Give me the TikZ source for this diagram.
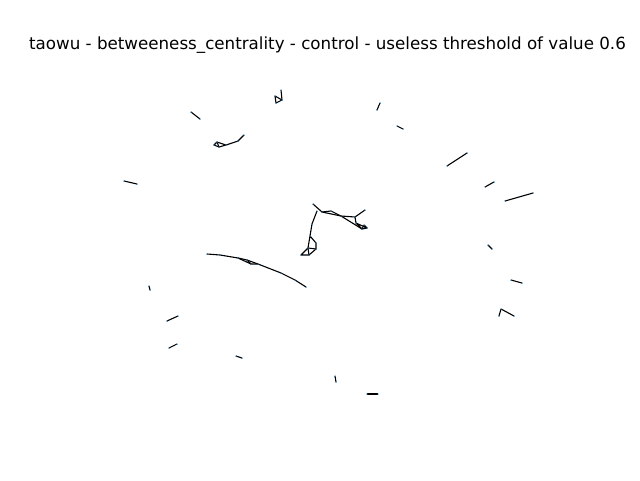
\documentclass[tikz,border=0pt]{standalone}
\usepackage{fontspec}
\setmainfont{DejaVu Sans}
\usepackage{tikz}
\usetikzlibrary{backgrounds}

\definecolor{dotblue}{RGB}{31,119,180}

\begin{document}
\begin{tikzpicture}[x=1pt, y=-1pt,
  dot/.style={coordinate, label={[circle, fill=dotblue, inner sep=0pt, minimum size=1.5pt]center:{}}},
  edge/.style={line width=1.1pt, black, line join=round}]
  \useasboundingbox (0,0) rectangle (640,480);

  % Title
  \node [anchor=base, font=\fontsize{16.7}{20}\selectfont] (title) at (327.5,49) {taowu - betweeness\_centrality - control - useless threshold of value 0.6};

  % Nodes: curve at the bottom left
  \node [dot] (a1) at (207,254) {}; \node [dot] (a2) at (220,255) {};
  \node [dot] (a3) at (238,258) {}; \node [dot] (a4) at (247,260) {};
  \node [dot] (a5) at (251,264) {}; \node [dot] (a6) at (258,264) {};
  \node [dot] (a7) at (281,273) {}; \node [dot] (a8) at (295,280) {};
  \node [dot] (a9) at (306,287) {};

  % Nodes: centre cluster
  \node [dot] (c1) at (313,204) {}; \node [dot] (c2) at (322,212) {};
  \node [dot] (c3) at (331,211) {}; \node [dot] (c4) at (341,216) {};
  \node [dot] (c5) at (355,217) {}; \node [dot] (c6) at (365,210) {};
  \node [dot] (c7) at (356,223) {}; \node [dot] (c8) at (362,229) {};
  \node [dot] (c9) at (367,228) {}; \node [dot] (c10) at (364,225) {};
  \node [dot] (d1) at (317,211) {}; \node [dot] (d2) at (312,224) {};
  \node [dot] (d3) at (310,236) {}; \node [dot] (d4) at (316,243) {};
  \node [dot] (d5) at (316,249) {}; \node [dot] (d6) at (309,255) {};
  \node [dot] (d7) at (301,255) {}; \node [dot] (d8) at (308,248) {};

  % Nodes: small groups at the top
  \node [dot] (e1) at (244,135) {}; \node [dot] (e2) at (238,141) {};
  \node [dot] (e3) at (226,145) {}; \node [dot] (e4) at (219,147) {};
  \node [dot] (e5) at (214,145) {}; \node [dot] (e6) at (217,142) {};
  \node [dot] (t1) at (281,90) {};  \node [dot] (t2) at (282,100) {};
  \node [dot] (t3) at (275,96) {};  \node [dot] (t4) at (276,103) {};

  % Nodes: single pairs round the ring
  \node [dot] (p1a) at (191,112) {}; \node [dot] (p1b) at (200,119) {};
  \node [dot] (p2a) at (377,110) {}; \node [dot] (p2b) at (380,103) {};
  \node [dot] (p3a) at (397,126) {}; \node [dot] (p3b) at (403,129) {};
  \node [dot] (p4a) at (447,166) {}; \node [dot] (p4b) at (467,153) {};
  \node [dot] (p5a) at (485,187) {}; \node [dot] (p5b) at (494,182) {};
  \node [dot] (p6a) at (505,201) {}; \node [dot] (p6m) at (519,197) {};
  \node [dot] (p6b) at (533,193) {};
  \node [dot] (p7a) at (124,181) {}; \node [dot] (p7b) at (137,184) {};
  \node [dot] (p8a) at (149,286) {}; \node [dot] (p8b) at (150,290) {};
  \node [dot] (p9a) at (167,321) {}; \node [dot] (p9b) at (178,316) {};
  \node [dot] (p10a) at (169,348) {}; \node [dot] (p10b) at (177,344) {};
  \node [dot] (p11a) at (488,245) {}; \node [dot] (p11b) at (492,249) {};
  \node [dot] (p12a) at (511,280) {}; \node [dot] (p12b) at (522,283) {};
  \node [dot] (p13a) at (501,309) {}; \node [dot] (p13b) at (499,316) {};
  \node [dot] (p13c) at (514,316) {};
  \node [dot] (p14a) at (236,356) {}; \node [dot] (p14b) at (242,358) {};
  \node [dot] (p15a) at (335,376) {}; \node [dot] (p15b) at (336,382) {};
  \node [dot] (p16a) at (367,394) {}; \node [dot] (p16b) at (378,394) {};

  % Edges
  \begin{scope}[on background layer]
    \draw [edge] (a1) -- (a2) -- (a3) -- (a4) -- (a6) -- (a7) -- (a8) -- (a9);
    \draw [edge] (a3) -- (a5) -- (a6);
    \draw [edge] (a4) -- (a5);

    \draw [edge] (c1) -- (c2) -- (c3) -- (c4) -- (c5) -- (c6);
    \draw [edge] (c2) -- (c4) -- (c8);
    \draw [edge] (c5) -- (c7) -- (c8) -- (c9) -- (c7);
    \draw [edge] (c10) -- (c9);
    \draw [edge] (c10) -- (c8);
    \draw [edge] (d1) -- (d2) -- (d3) -- (d4) -- (d5) -- (d6) -- (d7) -- (d8) -- (d3);
    \draw [edge] (d8) -- (d5);
    \draw [edge] (d8) -- (d6);

    \draw [edge] (e1) -- (e2) -- (e3) -- (e4) -- (e5) -- (e6) -- (e3);
    \draw [edge] (e6) -- (e4);
    \draw [edge] (t1) -- (t2) -- (t3) -- (t4) -- (t2);

    \draw [edge] (p1a) -- (p1b);
    \draw [edge] (p2a) -- (p2b);
    \draw [edge] (p3a) -- (p3b);
    \draw [edge] (p4a) -- (p4b);
    \draw [edge] (p5a) -- (p5b);
    \draw [edge] (p6a) -- (p6m) -- (p6b);
    \draw [edge] (p7a) -- (p7b);
    \draw [edge] (p8a) -- (p8b);
    \draw [edge] (p9a) -- (p9b);
    \draw [edge] (p10a) -- (p10b);
    \draw [edge] (p11a) -- (p11b);
    \draw [edge] (p12a) -- (p12b);
    \draw [edge] (p13a) -- (p13b);
    \draw [edge] (p13a) -- (p13c);
    \draw [edge] (p14a) -- (p14b);
    \draw [edge] (p15a) -- (p15b);
    \draw [edge] (p16a) -- (p16b);
  \end{scope}
\end{tikzpicture}
\end{document}
